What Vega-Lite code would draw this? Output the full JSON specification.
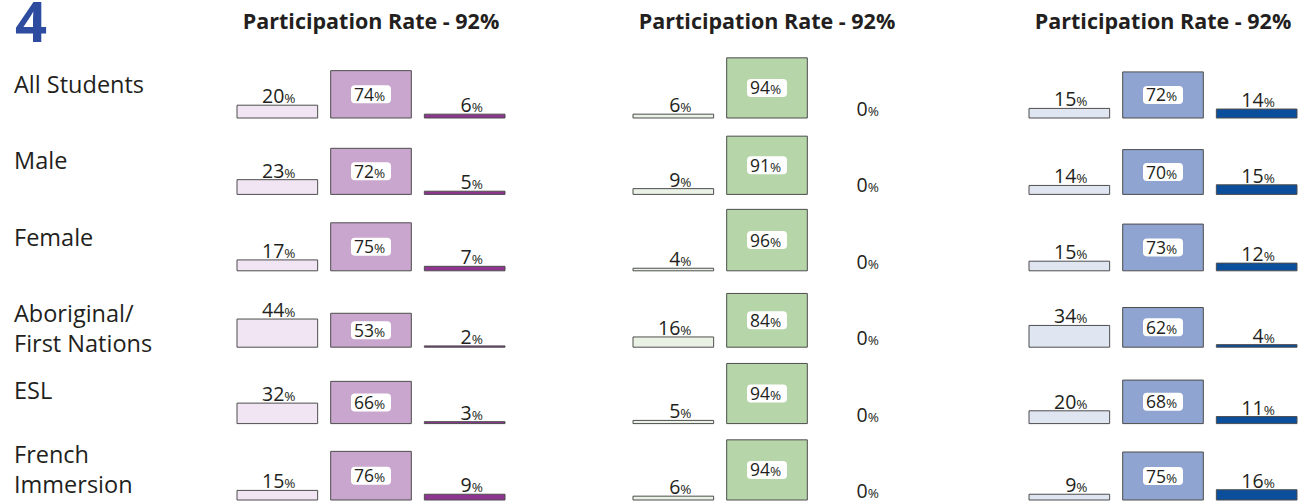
{
  "$schema": "https://vega.github.io/schema/vega-lite/v6.json",
  "background": "white",
  "padding": {"left": 14, "top": -3, "right": 5, "bottom": 2},
  "bounds": "flush",
  "data": {"values": [
    {"panel": "Reading", "group": "All Students", "level": "Not Yet Meeting", "value": 20},
    {"panel": "Reading", "group": "All Students", "level": "Meeting", "value": 74},
    {"panel": "Reading", "group": "All Students", "level": "Exceeding", "value": 6},
    {"panel": "Reading", "group": "Male", "level": "Not Yet Meeting", "value": 23},
    {"panel": "Reading", "group": "Male", "level": "Meeting", "value": 72},
    {"panel": "Reading", "group": "Male", "level": "Exceeding", "value": 5},
    {"panel": "Reading", "group": "Female", "level": "Not Yet Meeting", "value": 17},
    {"panel": "Reading", "group": "Female", "level": "Meeting", "value": 75},
    {"panel": "Reading", "group": "Female", "level": "Exceeding", "value": 7},
    {"panel": "Reading", "group": "Aboriginal/First Nations", "level": "Not Yet Meeting", "value": 44},
    {"panel": "Reading", "group": "Aboriginal/First Nations", "level": "Meeting", "value": 53},
    {"panel": "Reading", "group": "Aboriginal/First Nations", "level": "Exceeding", "value": 2},
    {"panel": "Reading", "group": "ESL", "level": "Not Yet Meeting", "value": 32},
    {"panel": "Reading", "group": "ESL", "level": "Meeting", "value": 66},
    {"panel": "Reading", "group": "ESL", "level": "Exceeding", "value": 3},
    {"panel": "Reading", "group": "French Immersion", "level": "Not Yet Meeting", "value": 15},
    {"panel": "Reading", "group": "French Immersion", "level": "Meeting", "value": 76},
    {"panel": "Reading", "group": "French Immersion", "level": "Exceeding", "value": 9},
    {"panel": "Writing", "group": "All Students", "level": "Not Yet Meeting", "value": 6},
    {"panel": "Writing", "group": "All Students", "level": "Meeting", "value": 94},
    {"panel": "Writing", "group": "All Students", "level": "Exceeding", "value": 0},
    {"panel": "Writing", "group": "Male", "level": "Not Yet Meeting", "value": 9},
    {"panel": "Writing", "group": "Male", "level": "Meeting", "value": 91},
    {"panel": "Writing", "group": "Male", "level": "Exceeding", "value": 0},
    {"panel": "Writing", "group": "Female", "level": "Not Yet Meeting", "value": 4},
    {"panel": "Writing", "group": "Female", "level": "Meeting", "value": 96},
    {"panel": "Writing", "group": "Female", "level": "Exceeding", "value": 0},
    {"panel": "Writing", "group": "Aboriginal/First Nations", "level": "Not Yet Meeting", "value": 16},
    {"panel": "Writing", "group": "Aboriginal/First Nations", "level": "Meeting", "value": 84},
    {"panel": "Writing", "group": "Aboriginal/First Nations", "level": "Exceeding", "value": 0},
    {"panel": "Writing", "group": "ESL", "level": "Not Yet Meeting", "value": 5},
    {"panel": "Writing", "group": "ESL", "level": "Meeting", "value": 94},
    {"panel": "Writing", "group": "ESL", "level": "Exceeding", "value": 0},
    {"panel": "Writing", "group": "French Immersion", "level": "Not Yet Meeting", "value": 6},
    {"panel": "Writing", "group": "French Immersion", "level": "Meeting", "value": 94},
    {"panel": "Writing", "group": "French Immersion", "level": "Exceeding", "value": 0},
    {"panel": "Numeracy", "group": "All Students", "level": "Not Yet Meeting", "value": 15},
    {"panel": "Numeracy", "group": "All Students", "level": "Meeting", "value": 72},
    {"panel": "Numeracy", "group": "All Students", "level": "Exceeding", "value": 14},
    {"panel": "Numeracy", "group": "Male", "level": "Not Yet Meeting", "value": 14},
    {"panel": "Numeracy", "group": "Male", "level": "Meeting", "value": 70},
    {"panel": "Numeracy", "group": "Male", "level": "Exceeding", "value": 15},
    {"panel": "Numeracy", "group": "Female", "level": "Not Yet Meeting", "value": 15},
    {"panel": "Numeracy", "group": "Female", "level": "Meeting", "value": 73},
    {"panel": "Numeracy", "group": "Female", "level": "Exceeding", "value": 12},
    {"panel": "Numeracy", "group": "Aboriginal/First Nations", "level": "Not Yet Meeting", "value": 34},
    {"panel": "Numeracy", "group": "Aboriginal/First Nations", "level": "Meeting", "value": 62},
    {"panel": "Numeracy", "group": "Aboriginal/First Nations", "level": "Exceeding", "value": 4},
    {"panel": "Numeracy", "group": "ESL", "level": "Not Yet Meeting", "value": 20},
    {"panel": "Numeracy", "group": "ESL", "level": "Meeting", "value": 68},
    {"panel": "Numeracy", "group": "ESL", "level": "Exceeding", "value": 11},
    {"panel": "Numeracy", "group": "French Immersion", "level": "Not Yet Meeting", "value": 9},
    {"panel": "Numeracy", "group": "French Immersion", "level": "Meeting", "value": 75},
    {"panel": "Numeracy", "group": "French Immersion", "level": "Exceeding", "value": 16}
  ]},
  "transform": [{"calculate": "datum.panel + '|' + datum.level", "as": "key"}],
  "facet": {
    "row": {
      "field": "group", "type": "nominal", "title": "4",
      "sort": ["All Students", "Male", "Female", "Aboriginal/First Nations", "ESL", "French Immersion"],
      "header": {
        "labelAngle": 0, "labelAlign": "left", "labelOrient": "left",
        "labelFont": "Open Sans", "labelFontSize": 23.5, "labelColor": "#231f20",
        "labelPadding": 61, "labelLineHeight": 29.5,
        "labelBaseline": {"expr": "parent.group == 'French Immersion' ? 'bottom' : 'middle'"},
        "labelExpr": "datum.value == 'Aboriginal/First Nations' ? ['Aboriginal/', 'First Nations', '\u2800\u2800\u2800\u2800\u2800\u2800\u2800\u2800\u2800'] : datum.value == 'French Immersion' ? ['French', 'Immersion', '\u2800\u2800\u2800\u2800\u2800\u2800\u2800\u2800\u2800'] : [datum.value, '\u2800\u2800\u2800\u2800\u2800\u2800\u2800\u2800\u2800']",
        "titleAngle": 0, "titleAnchor": "end", "titleAlign": "left", "titleBaseline": "bottom", "titleOrient": "left",
        "titleFont": "Open Sans", "titleFontSize": 56, "titleFontWeight": "bold", "titleColor": "#2d4b9f",
        "titlePadding": -43
      }
    },
    "column": {
      "field": "panel", "type": "nominal", "title": null,
      "sort": ["Reading", "Writing", "Numeracy"],
      "header": {
        "labelFont": "Open Sans", "labelFontSize": 21.5, "labelFontWeight": "bold", "labelColor": "#231f20",
        "labelPadding": 21,
        "labelExpr": "'Participation Rate - 92%'"
      }
    }
  },
  "spacing": {"row": 12.4, "column": 128},
  "spec": {
    "width": 268,
    "height": 64,
    "encoding": {
      "x": {"field": "level", "type": "nominal", "sort": ["Not Yet Meeting", "Meeting", "Exceeding"], "axis": null, "scale": {"paddingInner": 0.139, "paddingOuter": 0}}
    },
    "layer": [
      {
        "transform": [{"filter": "datum.value > 0"}],
        "mark": {"type": "bar", "stroke": "#4d4d4d", "strokeWidth": 1},
        "encoding": {
          "y": {"field": "value", "type": "quantitative", "scale": {"domain": [0, 100]}, "axis": null},
          "color": {
            "field": "key", "type": "nominal", "legend": null,
            "scale": {
              "domain": ["Reading|Not Yet Meeting", "Reading|Meeting", "Reading|Exceeding", "Writing|Not Yet Meeting", "Writing|Meeting", "Writing|Exceeding", "Numeracy|Not Yet Meeting", "Numeracy|Meeting", "Numeracy|Exceeding"],
              "range": ["#f1e5f3", "#c9a6cd", "#8e3590", "#e9f2e5", "#b6d6a9", "#3a7a3a", "#dfe5f1", "#8fa4d1", "#0b4e9b"]
            }
          }
        }
      },
      {
        "transform": [{"filter": "datum.level != 'Meeting'"}],
        "mark": {"type": "text", "align": "right", "baseline": "alphabetic", "dx": 7, "dy": -2, "font": "Open Sans", "fontSize": 19.5, "color": "#231f20"},
        "encoding": {
          "y": {"field": "value", "type": "quantitative", "scale": {"domain": [0, 100]}, "axis": null},
          "text": {"field": "value", "type": "quantitative"}
        }
      },
      {
        "transform": [{"filter": "datum.level != 'Meeting'"}],
        "mark": {"type": "text", "align": "left", "baseline": "alphabetic", "dx": 7, "dy": -2, "font": "Open Sans", "fontSize": 13.5, "color": "#231f20", "text": "%"},
        "encoding": {
          "y": {"field": "value", "type": "quantitative", "scale": {"domain": [0, 100]}, "axis": null}
        }
      },
      {
        "transform": [{"filter": "datum.level == 'Meeting'"}],
        "mark": {"type": "point", "shape": "M -0.8,-0.45 L 0.8,-0.45 Q 1,-0.45 1,-0.25 L 1,0.25 Q 1,0.45 0.8,0.45 L -0.8,0.45 Q -1,0.45 -1,0.25 L -1,-0.25 Q -1,-0.45 -0.8,-0.45 Z", "filled": true, "fill": "white", "size": 1600, "opacity": 1, "strokeWidth": 0},
        "encoding": {
          "y": {"field": "value", "type": "quantitative", "scale": {"domain": [0, 200]}, "axis": null}
        }
      },
      {
        "transform": [{"filter": "datum.level == 'Meeting'"}],
        "mark": {"type": "text", "align": "right", "baseline": "alphabetic", "dx": 3, "dy": 6.5, "font": "Open Sans", "fontSize": 17.5, "color": "#231f20"},
        "encoding": {
          "y": {"field": "value", "type": "quantitative", "scale": {"domain": [0, 200]}, "axis": null},
          "text": {"field": "value", "type": "quantitative"}
        }
      },
      {
        "transform": [{"filter": "datum.level == 'Meeting'"}],
        "mark": {"type": "text", "align": "left", "baseline": "alphabetic", "dx": 3, "dy": 6.5, "font": "Open Sans", "fontSize": 13.5, "color": "#231f20", "text": "%"},
        "encoding": {
          "y": {"field": "value", "type": "quantitative", "scale": {"domain": [0, 200]}, "axis": null}
        }
      }
    ],
    "resolve": {"scale": {"y": "independent"}}
  },
  "config": {"view": {"stroke": null}}
}
